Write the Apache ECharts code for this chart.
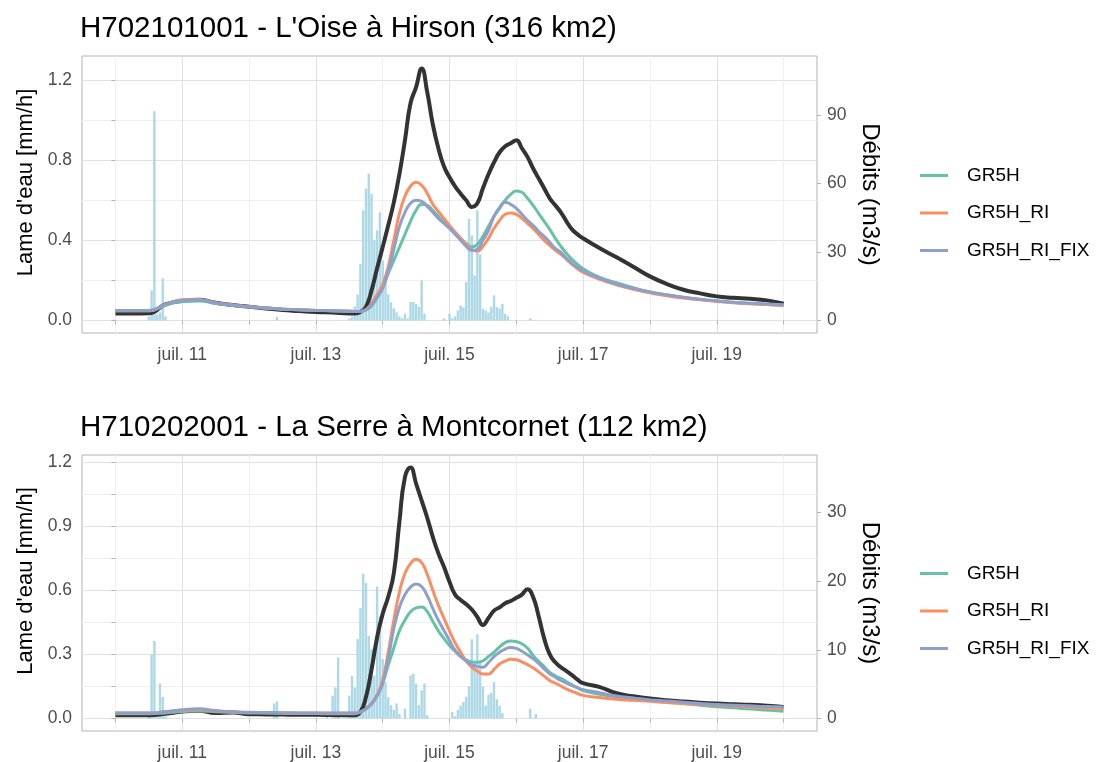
<!DOCTYPE html>
<html><head><meta charset="utf-8">
<script src="https://cdn.jsdelivr.net/npm/echarts@6/dist/echarts.min.js"></script>
<style>html,body{margin:0;padding:0;background:#fff}#c{width:1099px;height:762px}</style>
</head><body><div id="c"></div>
<script>
const FONT = '"Liberation Sans", Arial, sans-serif';
const plotTitles = ["H702101001 - L'Oise à Hirson (316 km2)", "H710202001 - La Serre à Montcornet (112 km2)"];
const areasKm2 = [316, 112];
const seriesNames = ['GR5H', 'GR5H_RI', 'GR5H_RI_FIX'];
const xTickHours = [0, 24, 48, 72, 96, 120, 144, 168, 192, 216, 240];
const xLabelHours = [24, 72, 120, 168, 216];
const yTicksTop = [0, 0.2, 0.4, 0.6, 0.8, 1.0, 1.2];
const yLabelsTop = [0, 0.4, 0.8, 1.2];
const yTicksBot = [0, 0.15, 0.3, 0.45, 0.6, 0.75, 0.9, 1.05, 1.2];
const yLabelsBot = [0, 0.3, 0.6, 0.9, 1.2];
const qLabelsTop = [0, 30, 60, 90];
const qLabelsBot = [0, 10, 20, 30];

// hours since 10 July 00:00 at which the flow curves are read (mm/h)
const simHours = [0,6,12,18,24,30,36,42,48,54,60,66,72,78,84,
  86,88,90,92,94,96,98,100,102,104,106,108,110,112,114,116,118,120,122,124,126,128,130,132,134,136,138,140,142,144,146,148,150,152,154,156,158,160,162,164,166,168,
  174,180,186,192,198,204,210,216,222,228,234,240];

// ---- top panel: L'Oise à Hirson
const rainTopHours = [12,13,14,15,16,17,18,58,84,85,86,87,88,89,90,91,92,93,94,95,96,97,98,99,100,101,102,103,104,105,106,107,108,109,110,111,118,120,121,122,123,124,125,126,127,128,129,130,131,132,133,134,135,136,137,138,139,140,141,149];
const rainTopVals  = [0.02,0.15,1.045,0.03,0.04,0.21,0.02,0.017,0.01,0.02,0.07,0.13,0.283,0.55,0.658,0.733,0.633,0.4,0.45,0.54,0.3,0.2,0.13,0.09,0.06,0.04,0.02,0.01,0.033,0.01,0.092,0.092,0.083,0.067,0.2,0.033,0.01,0.033,0.01,0.02,0.05,0.075,0.065,0.192,0.508,0.425,0.225,0.55,0.33,0.058,0.05,0.04,0.067,0.125,0.067,0.06,0.083,0.033,0.02,0.01];

const obsTop = [0.035,0.035,0.036,0.08,0.097,0.103,0.088,0.077,0.068,0.06,0.052,0.047,0.042,0.039,0.035,
  0.035,0.042,0.068,0.15,0.26,0.367,0.475,0.59,0.73,0.9,1.085,1.165,1.258,1.14,0.98,0.86,0.77,0.715,0.67,0.633,0.6,0.567,0.585,0.66,0.73,0.79,0.84,0.87,0.885,0.90,0.86,0.817,0.76,0.71,0.66,0.61,0.575,0.54,0.495,0.455,0.43,0.41,
  0.36,0.315,0.268,0.22,0.182,0.153,0.135,0.12,0.113,0.108,0.1,0.083];
const gr5hTop = [0.048,0.048,0.048,0.075,0.095,0.097,0.085,0.076,0.068,0.062,0.057,0.053,0.05,0.048,0.046,
  0.045,0.045,0.052,0.072,0.115,0.17,0.235,0.3,0.365,0.43,0.495,0.55,0.58,0.575,0.55,0.52,0.49,0.467,0.44,0.41,0.385,0.367,0.38,0.42,0.47,0.52,0.56,0.6,0.63,0.647,0.64,0.61,0.575,0.535,0.495,0.455,0.41,0.37,0.335,0.305,0.28,0.258,
  0.215,0.188,0.163,0.142,0.127,0.115,0.105,0.097,0.09,0.085,0.08,0.075];
const riTop = [0.048,0.048,0.048,0.08,0.103,0.105,0.088,0.077,0.068,0.062,0.056,0.053,0.05,0.048,0.046,
  0.045,0.045,0.055,0.085,0.13,0.18,0.27,0.40,0.533,0.62,0.67,0.69,0.675,0.635,0.58,0.545,0.51,0.475,0.44,0.41,0.38,0.355,0.345,0.37,0.41,0.46,0.5,0.53,0.537,0.53,0.51,0.485,0.46,0.43,0.40,0.375,0.35,0.33,0.305,0.28,0.258,0.24,
  0.205,0.178,0.155,0.138,0.123,0.112,0.103,0.095,0.088,0.083,0.079,0.075];
const fixTop = [0.05,0.05,0.05,0.078,0.101,0.103,0.087,0.077,0.068,0.062,0.056,0.053,0.05,0.048,0.046,
  0.045,0.045,0.053,0.078,0.115,0.16,0.245,0.355,0.467,0.54,0.585,0.60,0.595,0.57,0.54,0.51,0.485,0.46,0.43,0.40,0.37,0.35,0.355,0.40,0.45,0.52,0.565,0.59,0.58,0.56,0.53,0.50,0.475,0.445,0.42,0.39,0.36,0.34,0.31,0.285,0.265,0.247,
  0.21,0.182,0.16,0.142,0.128,0.116,0.106,0.098,0.091,0.086,0.082,0.078];

// ---- bottom panel: La Serre à Montcornet
const rainBotHours = [12,13,14,15,16,17,18,57,58,76,78,79,80,84,85,86,87,88,89,90,91,92,93,94,95,96,97,98,99,100,101,102,104,106,107,108,109,110,111,112,121,122,123,124,125,126,127,128,129,130,131,132,133,134,135,136,137,138,139,149,151];
const rainBotVals  = [0.02,0.30,0.363,0.02,0.163,0.10,0.01,0.07,0.08,0.03,0.107,0.145,0.286,0.107,0.2,0.145,0.371,0.518,0.677,0.634,0.386,0.325,0.2,0.618,0.479,0.278,0.17,0.1,0.062,0.04,0.07,0.02,0.046,0.201,0.209,0.163,0.062,0.132,0.163,0.015,0.03,0.01,0.04,0.06,0.077,0.1,0.15,0.371,0.27,0.394,0.27,0.15,0.06,0.11,0.12,0.17,0.09,0.06,0.025,0.046,0.02];

const obsBot = [0.015,0.015,0.015,0.022,0.032,0.036,0.025,0.028,0.02,0.019,0.018,0.017,0.017,0.016,0.015,
  0.015,0.03,0.1,0.23,0.38,0.49,0.57,0.68,0.92,1.13,1.175,1.1,1.02,0.94,0.85,0.773,0.71,0.64,0.58,0.555,0.535,0.51,0.475,0.438,0.47,0.505,0.52,0.54,0.55,0.565,0.58,0.605,0.57,0.48,0.375,0.30,0.263,0.24,0.222,0.203,0.182,0.165,
  0.147,0.118,0.104,0.093,0.085,0.079,0.074,0.07,0.067,0.064,0.06,0.054];
const gr5hBot = [0.022,0.022,0.022,0.026,0.032,0.035,0.031,0.028,0.026,0.025,0.024,0.023,0.023,0.022,0.022,
  0.022,0.031,0.045,0.07,0.11,0.165,0.25,0.33,0.41,0.46,0.50,0.518,0.522,0.50,0.455,0.41,0.375,0.342,0.315,0.29,0.275,0.265,0.263,0.27,0.29,0.31,0.335,0.355,0.363,0.36,0.35,0.33,0.295,0.268,0.243,0.216,0.2,0.188,0.172,0.158,0.143,0.131,
  0.113,0.1,0.092,0.085,0.077,0.07,0.062,0.055,0.05,0.044,0.039,0.034];
const riBot = [0.025,0.025,0.025,0.031,0.038,0.042,0.035,0.03,0.028,0.027,0.026,0.025,0.025,0.024,0.024,
  0.024,0.03,0.045,0.07,0.11,0.18,0.31,0.46,0.59,0.68,0.725,0.745,0.73,0.675,0.60,0.53,0.47,0.41,0.355,0.31,0.27,0.24,0.222,0.208,0.208,0.23,0.255,0.268,0.277,0.275,0.265,0.252,0.237,0.218,0.198,0.178,0.165,0.152,0.138,0.127,0.117,0.108,
  0.098,0.09,0.085,0.08,0.075,0.07,0.066,0.062,0.057,0.053,0.049,0.045];
const fixBot = [0.025,0.025,0.025,0.032,0.041,0.045,0.037,0.031,0.029,0.028,0.027,0.026,0.026,0.025,0.025,
  0.025,0.03,0.045,0.068,0.105,0.165,0.28,0.42,0.52,0.58,0.615,0.63,0.618,0.575,0.515,0.46,0.412,0.365,0.32,0.29,0.268,0.252,0.244,0.24,0.262,0.29,0.31,0.325,0.332,0.328,0.315,0.298,0.28,0.258,0.232,0.209,0.193,0.178,0.165,0.154,0.144,0.135,
  0.12,0.105,0.096,0.087,0.082,0.076,0.07,0.065,0.062,0.059,0.056,0.054];

const modelColors = ['#66c2a5', '#fc8d62', '#8da0cb'];

function zip(a, b) { return a.map((h, i) => [h, b[i]]); }

const panels = [
  {rainH: rainTopHours, rainV: rainTopVals, obs: obsTop, models: [gr5hTop, riTop, fixTop],
   yTicks: yTicksTop, yLabels: yLabelsTop, qLabels: qLabelsTop, top: 56, height: 277, titleTop: 9, legendTop: 161},
  {rainH: rainBotHours, rainV: rainBotVals, obs: obsBot, models: [gr5hBot, riBot, fixBot],
   yTicks: yTicksBot, yLabels: yLabelsBot, qLabels: qLabelsBot, top: 455, height: 278, titleTop: 408, legendTop: 559}
];

const chart = echarts.init(document.getElementById('c'), null, {renderer: 'canvas'});
const grids = [], xAxes = [], yAxes = [], series = [], titleC = [], legends = [];
const axisTextColor = '#4d4d4d';
const borderColor = '#b3b3b3';

panels.forEach((p, i) => {
  const allMax = Math.max(...p.obs, ...p.rainV, ...p.models.map(m => Math.max(...m)));
  const yMin = -0.05 * allMax, yMax = 1.05 * allMax;
  const k = areasKm2[i] / 3.6;
  grids.push({left: 82, width: 735, top: p.top, height: p.height, show: true, borderColor: borderColor, borderWidth: 1, backgroundColor: 'transparent', containLabel: false});
  titleC.push({text: plotTitles[i], left: 75, top: p.titleTop, textStyle: {fontFamily: FONT, fontSize: 29.5, fontWeight: 'normal', color: '#000'}});
  legends.push({data: seriesNames, orient: 'vertical', left: 915, top: p.legendTop, itemWidth: 28, itemHeight: 3, itemGap: 18.5, icon: 'rect',
    textStyle: {fontFamily: FONT, fontSize: 19, color: '#000', padding: [0, 0, 0, 14]}, selectedMode: false});
  xAxes.push({type: 'value', gridIndex: i, min: -12, max: 252,
    axisLine: {show: false},
    axisTick: {show: true, customValues: xTickHours, length: 4, lineStyle: {color: borderColor}},
    axisLabel: {customValues: xLabelHours, margin: 13, fontFamily: FONT, fontSize: 17.5, color: axisTextColor,
      formatter: v => 'juil. ' + Math.round(10 + v / 24)},
    splitLine: {show: true, lineStyle: {color: ['#efefef', '#e0e0e0'], width: 1}}});
  yAxes.push({type: 'value', gridIndex: i, position: 'left', min: yMin, max: yMax,
    name: "Lame d'eau [mm/h]", nameLocation: 'middle', nameGap: 40, nameRotate: 90,
    nameTextStyle: {fontFamily: FONT, fontSize: 22, color: '#000', padding: [0, 0, 0, 24]},
    axisLine: {show: false},
    axisTick: {show: true, customValues: p.yTicks, length: 4, lineStyle: {color: borderColor}},
    axisLabel: {customValues: p.yLabels, margin: 10, fontFamily: FONT, fontSize: 17.5, color: axisTextColor, formatter: v => v.toFixed(1)},
    splitLine: {show: true, lineStyle: {color: ['#e0e0e0', '#efefef'], width: 1}}});
  yAxes.push({type: 'value', gridIndex: i, position: 'right', min: yMin * k, max: yMax * k,
    name: 'Débits (m3/s)', nameLocation: 'middle', nameGap: 36, nameRotate: -90,
    nameTextStyle: {fontFamily: FONT, fontSize: 24, color: '#000'},
    axisLine: {show: false},
    axisTick: {show: true, customValues: p.qLabels, length: 4, lineStyle: {color: borderColor}},
    axisLabel: {customValues: p.qLabels, margin: 10, fontFamily: FONT, fontSize: 17.5, color: axisTextColor},
    splitLine: {show: false}});
  series.push({type: 'bar', name: 'pluie' + i, xAxisIndex: i, yAxisIndex: 2 * i, barWidth: 2.4,
    itemStyle: {color: '#add8e6'}, data: zip(p.rainH, p.rainV), silent: true, z: 1});
  series.push({type: 'line', name: 'obs' + i, xAxisIndex: i, yAxisIndex: 2 * i, showSymbol: false, smooth: 0.5,
    lineStyle: {color: '#333333', width: 4, join: 'round'}, itemStyle: {color: '#333333'}, data: zip(simHours, p.obs), z: 2});
  p.models.forEach((m, j) => {
    series.push({type: 'line', name: seriesNames[j], xAxisIndex: i, yAxisIndex: 2 * i, showSymbol: false, smooth: 0.5,
      lineStyle: {color: modelColors[j], width: 3, join: 'round'}, itemStyle: {color: modelColors[j]}, data: zip(simHours, m), z: 3 + j});
  });
});

chart.setOption({animation: false, backgroundColor: '#fff', textStyle: {fontFamily: FONT},
  title: titleC, legend: legends, grid: grids, xAxis: xAxes, yAxis: yAxes, series: series});
</script></body></html>
